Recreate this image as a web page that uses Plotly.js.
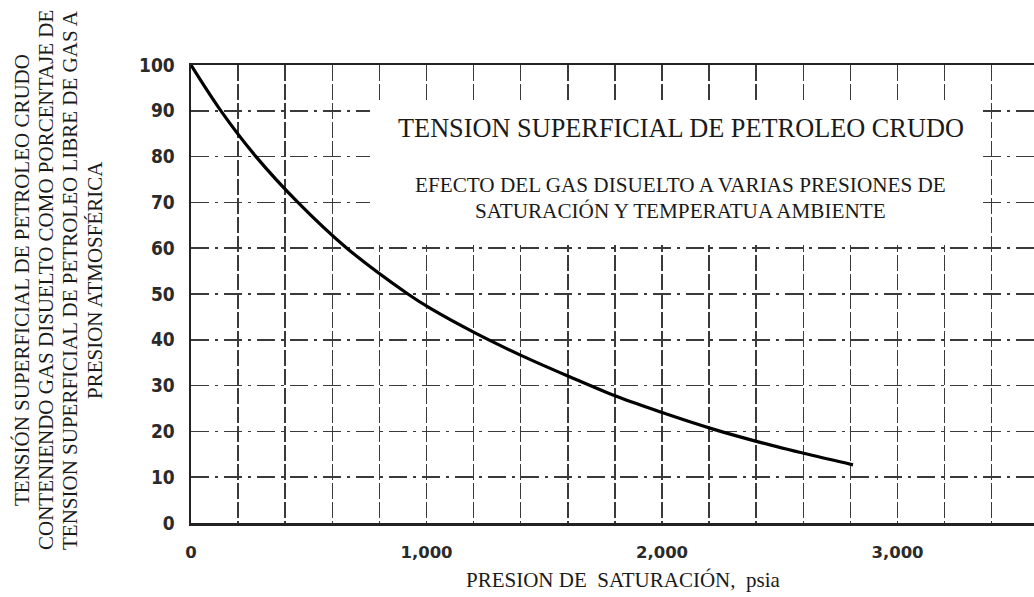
<!DOCTYPE html>
<html>
<head>
<meta charset="utf-8">
<script src="https://cdn.plot.ly/plotly-3.0.1.min.js"></script>
<style>
  html, body { margin: 0; padding: 0; background: #ffffff; }
  #chart { width: 1034px; height: 597px; }
</style>
</head>
<body>
<div id="chart"></div>
<script>
// ---- data ----
const pressurePsia = [0, 127, 276, 454, 662, 921, 1015, 1210, 1406, 1605, 1809, 2013, 2217, 2425, 2620, 2811];
const tensionPct   = [100, 90, 80, 70, 60, 50, 46.9, 41.4, 36.5, 32.0, 27.6, 23.9, 20.5, 17.5, 15.0, 12.7];

const xTickVals = [0, 1000, 2000, 3000];
const xTickText = ['0', '1,000', '2,000', '3,000'];
const yTickVals = [0, 10, 20, 30, 40, 50, 60, 70, 80, 90, 100];

const titleText = 'TENSION SUPERFICIAL DE PETROLEO CRUDO';
const subtitleLines = ['EFECTO DEL GAS DISUELTO A VARIAS PRESIONES DE',
                       'SATURACIÓN Y TEMPERATUA AMBIENTE'];
const yTitleLines = ['TENSIÓN SUPERFICIAL DE PETROLEO CRUDO',
                     'CONTENIENDO GAS DISUELTO COMO PORCENTAJE DE',
                     'TENSION SUPERFICIAL DE PETROLEO LIBRE DE GAS A',
                     'PRESION ATMOSFÉRICA'];
const xTitleText = 'PRESION DE\u00a0 SATURACIÓN,\u00a0 psia';

// ---- layout geometry (pixels) ----
const W = 1034, H = 597;
const L = 191, R = 0, T = 65, B = 74;
const PW = W - L - R, PH = H - T - B;
const xp = px => (px - L) / PW;
const yp = py => (H - B - py) / PH;

const serif = 'Liberation Serif, Times New Roman, serif';
const ink = '#1a1a1a';

const annotations = [];
annotations.push({
  text: titleText, xref: 'paper', yref: 'paper', x: xp(681), y: yp(128),
  xanchor: 'center', yanchor: 'middle', showarrow: false,
  font: {family: serif, size: 26.3, color: ink}
});
subtitleLines.forEach((t, i) => annotations.push({
  text: t, xref: 'paper', yref: 'paper', x: xp(680), y: yp(185 + i * 26),
  xanchor: 'center', yanchor: 'middle', showarrow: false,
  font: {family: serif, size: 21.2, color: ink}
}));
const yTitleX = [22, 46, 70, 95];
yTitleLines.forEach((t, i) => annotations.push({
  text: t, xref: 'paper', yref: 'paper', x: xp(yTitleX[i]), y: yp(280),
  xanchor: 'center', yanchor: 'middle', showarrow: false, textangle: -90,
  font: {family: serif, size: 21, color: ink}
}));
annotations.push({
  text: xTitleText, xref: 'paper', yref: 'paper', x: xp(623), y: yp(580),
  xanchor: 'center', yanchor: 'middle', showarrow: false,
  font: {family: serif, size: 21, color: ink}
});

const trace = {
  x: pressurePsia, y: tensionPct, type: 'scatter', mode: 'lines',
  line: {color: '#000000', width: 3.2, shape: 'spline', smoothing: 1.0},
  hoverinfo: 'x+y', showlegend: false
};

const layout = {
  width: W, height: H,
  margin: {l: L, r: R, t: T, b: B, pad: 0},
  paper_bgcolor: '#ffffff', plot_bgcolor: '#ffffff',
  showlegend: false,
  xaxis: {
    range: [0, PW / 0.2355], showline: true, mirror: true,
    linecolor: '#222', linewidth: 2.5,
    tickmode: 'array', tickvals: xTickVals, ticktext: xTickText,
    ticks: '', ticklabelstandoff: 13,
    tickfont: {family: 'DejaVu Sans, sans-serif', size: 16.5, color: '#2a2a2a', weight: 'bold'},
    showgrid: true, gridcolor: '#3a3a3a', gridwidth: 1.5, griddash: '16px,3px',
    minor: {dtick: 200, tick0: 0, showgrid: true, gridcolor: '#3a3a3a', gridwidth: 1.5, griddash: '16px,3px', ticks: ''},
    zeroline: false, fixedrange: true
  },
  yaxis: {
    range: [0, 100], showline: true, mirror: false,
    linecolor: '#222', linewidth: 2.5,
    tickmode: 'array', tickvals: yTickVals,
    ticks: '', ticklabelstandoff: 10,
    tickfont: {family: 'Liberation Sans Narrow, DejaVu Sans Condensed, sans-serif', size: 19, color: '#2a2a2a', weight: 'bold'},
    showgrid: true, gridcolor: '#3a3a3a', gridwidth: 1.5, griddash: '18px,6px,3px,6px',
    zeroline: false, fixedrange: true
  },
  shapes: [{
    type: 'rect', xref: 'paper', yref: 'paper', layer: 'above',
    x0: xp(370), x1: xp(983), y0: yp(245), y1: yp(102),
    fillcolor: '#ffffff', line: {width: 0}
  }],
  annotations: annotations
};

Plotly.newPlot('chart', [trace], layout, {displayModeBar: false, staticPlot: true});
</script>
</body>
</html>
